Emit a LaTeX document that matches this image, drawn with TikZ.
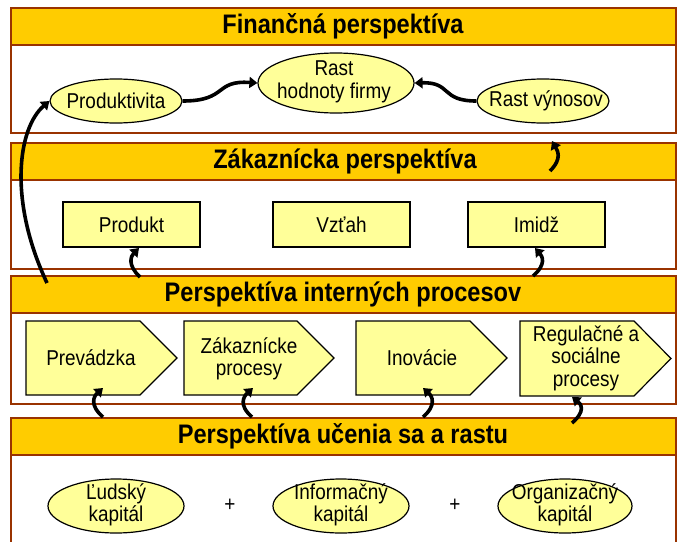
\documentclass[tikz,border=0pt]{standalone}
\usepackage{fontspec}
\setmainfont{Liberation Sans}[FakeStretch=0.88]
\usetikzlibrary{arrows.meta,shapes.geometric}
\definecolor{hdr}{HTML}{FFCC00}
\definecolor{boxfill}{HTML}{FFFF99}
\definecolor{brd}{HTML}{993300}
\begin{document}
\begin{tikzpicture}[x=1pt,y=-1pt,
  panel/.style={draw=brd, line width=1.5pt, fill=white},
  header/.style={draw=brd, line width=1.5pt, fill=hdr},
  title/.style={font=\fontsize{26.8}{28}\selectfont\bfseries, inner sep=0pt},
  txt/.style={font=\fontsize{21.5}{22.5}\selectfont, align=center, inner sep=0pt},
  ell/.style={ellipse, draw=black, line width=1.2pt, fill=boxfill, inner sep=0pt},
  rbox/.style={rectangle, draw=black, line width=1.8pt, fill=boxfill, inner sep=0pt, minimum width=137pt, minimum height=45pt, font=\fontsize{21.5}{22.5}\selectfont},
  penta/.style={draw=black, line width=1.2pt, fill=boxfill, line join=miter},
  bigarrow/.style={line width=3.6pt, -{Triangle[length=8pt,width=11pt]}, black},
]
\useasboundingbox (0,0) rectangle (682,541);
\fill[white] (0,0) rectangle (682,541);

% Panel 1
\draw[panel] (11,8) rectangle (676,133);
\draw[header] (11,8) rectangle (676,45);
\node[title] (t1) at (343,26.5) {Finančná perspektíva};
% Panel 2
\draw[panel] (11,143) rectangle (676,269);
\draw[header] (11,143) rectangle (676,180);
\node[title] (t2) at (345,161.5) {Zákaznícka perspektíva};
% Panel 3
\draw[panel] (11,276) rectangle (676,404);
\draw[header] (11,276) rectangle (676,313);
\node[title] (t3) at (343,294.5) {Perspektíva interných procesov};
% Panel 4
\draw[panel] (11,418) rectangle (676,570);
\draw[header] (11,418) rectangle (676,455);
\node[title] (t4) at (343,436.5) {Perspektíva učenia sa a rastu};

% Financial ellipses
\node[ell, minimum width=132pt, minimum height=44pt] (prod) at (116,101) {};
\node[txt] (prodt) at (116,101) {Produktivita};
\node[ell, minimum width=156pt, minimum height=60pt] (rast) at (336,83) {};
\node[txt] (rastt) at (334,82) {Rast\\hodnoty firmy};
\node[ell, minimum width=132pt, minimum height=44pt] (vyn) at (543,101) {};
\node[txt] (vynt) at (546,101) {Rast výnosov};

% Customer boxes
\node[rbox] (produkt) at (131.5,224.5) {Produkt};
\node[rbox] (vztah) at (341.5,224.5) {Vzťah};
\node[rbox] (imidz) at (536.5,224.5) {Imidž};

% Process pentagons
\draw[penta] (26,321) -- (140,321) -- (177,358) -- (140,395) -- (26,395) -- cycle;
\draw[penta] (184,321) -- (297,321) -- (334,358) -- (297,395) -- (184,395) -- cycle;
\draw[penta] (356,321) -- (470,321) -- (507,358) -- (470,395) -- (356,395) -- cycle;
\draw[penta] (520,321) -- (634,321) -- (671,358.5) -- (634,396) -- (520,396) -- cycle;
\node[txt] (p1) at (91,358) {Prevádzka};
\node[txt] (p2) at (249,359) {Zákaznícke\\procesy};
\node[txt] (p3) at (422,358) {Inovácie};
\node[txt] (p4) at (586,358) {Regulačné a\\sociálne\\procesy};

% Learning ellipses
\node[ell, minimum width=136pt, minimum height=54pt] (lk) at (116,506) {};
\node[txt] (lkt) at (116,505) {Ľudský\\kapitál};
\node[ell, minimum width=136pt, minimum height=54pt] (ik) at (341,506) {};
\node[txt] (ikt) at (341,505) {Informačný\\kapitál};
\node[ell, minimum width=134pt, minimum height=54pt] (ok) at (565,506) {};
\node[txt] (okt) at (565,505) {Organizačný\\kapitál};
\node[txt] (plus1) at (230,505) {+};
\node[txt] (plus2) at (455,505) {+};

% Connector end points
\coordinate (cT) at (47,283);
\coordinate (dT) at (550,171);
\coordinate (dH) at (552,141);
\coordinate (eT) at (140,277);
\coordinate (eH) at (139,248);
\coordinate (fT) at (533,276);
\coordinate (fH) at (535,248);
\coordinate (gT) at (103,417);
\coordinate (gH) at (103,388);
\coordinate (hT) at (252,417);
\coordinate (hH) at (253,388);
\coordinate (iT) at (423,417);
\coordinate (iH) at (423,388);
\coordinate (jT) at (572,423);
\coordinate (jH) at (572,397);

% Connectors
\draw[bigarrow] (prod.east) .. controls (228,101) and (214,80) .. (rast.west);
\draw[bigarrow] (vyn.west) .. controls (440,101) and (452,82) .. (rast.east);
\draw[bigarrow] (cT) .. controls (8,200) and (18,128) .. (prod.west);
\draw[bigarrow] (dT) .. controls (563,158) and (557,150) .. (dH);
\draw[bigarrow] (eT) .. controls (127,265) and (131,256) .. (eH);
\draw[bigarrow] (fT) .. controls (547,264) and (542,256) .. (fH);
\draw[bigarrow] (gT) .. controls (89,405) and (94,396) .. (gH);
\draw[bigarrow] (hT) .. controls (238,405) and (244,396) .. (hH);
\draw[bigarrow] (iT) .. controls (437,405) and (432,396) .. (iH);
\draw[bigarrow] (jT) .. controls (586,411) and (581,404) .. (jH);
\end{tikzpicture}
\end{document}
